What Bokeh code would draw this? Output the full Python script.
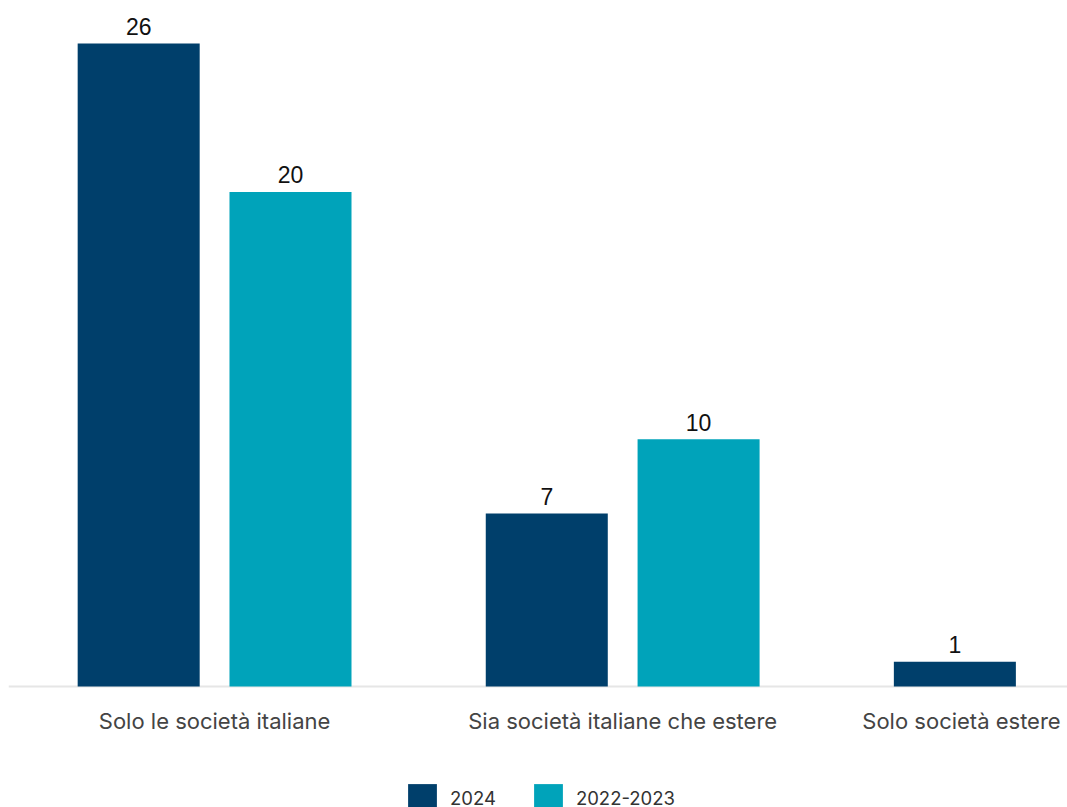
from bokeh.plotting import figure
from bokeh.models import (ColumnDataSource, Range1d, Legend, LegendItem, Span)
from bokeh.core.properties import value
from bokeh.embed import file_html
from bokeh.resources import INLINE

# ---- data ----
categories = ["Solo le società italiane", "Sia società italiane che estere", "Solo società estere"]
series_names = ["2024", "2022-2023"]
values_2024 = [26, 7, 1]
values_2022_2023 = [20, 10, None]

# ---- style ----
COLORS = ["#003F6B", "#00A3BA"]
X_START, X_END = -0.005, 2.59
Y_START, Y_END = -4.893, 27.42
DODGE = 0.186
BAR_W = 0.299
LABEL_FONT = "Inter"
FRAME_W, FRAME_H = 1059, 799
PX_PER_UNIT = FRAME_W / (X_END - X_START)

p = figure(frame_width=FRAME_W, frame_height=FRAME_H, output_backend="svg", toolbar_location=None,
           x_range=Range1d(X_START, X_END), y_range=Range1d(Y_START, Y_END),
           min_border_left=8, min_border_right=0, min_border_top=8, min_border_bottom=0)
p.outline_line_color = None
p.xgrid.visible = False
p.ygrid.visible = False
p.xaxis.visible = False
p.yaxis.visible = False
p.background_fill_color = "white"
p.border_fill_color = "white"

# baseline (x axis line)
p.add_layout(Span(location=0, dimension="width", line_color="#E6E6E6", line_width=2, level="underlay"))

centers = [i + 0.5 for i in range(len(categories))]
renderers = []
for k, (name, vals) in enumerate(zip(series_names, [values_2024, values_2022_2023])):
    off = (-DODGE if k == 0 else DODGE)
    xs = [c + off for c, v in zip(centers, vals) if v is not None]
    ys = [v for v in vals if v is not None]
    src = ColumnDataSource(dict(x=xs, top=ys, lab=[str(v) for v in ys]))
    r = p.vbar(x="x", top="top", width=BAR_W, bottom=0, source=src,
               fill_color=COLORS[k], line_color=None)
    renderers.append(r)
    p.text(x="x", y="top", text="lab", source=src, text_align="center",
           text_baseline="alphabetic", y_offset=-17, text_color="#111111",
           text_font=value("Liberation Sans"), text_font_size="23px")

# category labels: centred under each group, last one pulled inside the visible area
est_w = [len(c) * 10.0 for c in categories]
label_x = []
for c, w in zip(centers, est_w):
    limit = X_END - (w / 2 + 11) / PX_PER_UNIT
    label_x.append(min(c, limit))
cat_src = ColumnDataSource(dict(x=label_x, y=[0] * len(categories), text=categories))
p.text(x="x", y="y", text="text", source=cat_src, text_align="center",
       text_baseline="middle", y_offset=34, text_color="#444444",
       text_font=value(LABEL_FONT), text_font_size="22px")

legend = Legend(items=[LegendItem(label=n, renderers=[r]) for n, r in zip(series_names, renderers)],
                orientation="horizontal", location=(396, -9),
                label_text_font=LABEL_FONT, label_text_font_size="18.5px",
                label_text_color="#333333", glyph_width=36, glyph_height=36,
                spacing=34, border_line_color=None, background_fill_alpha=0,
                margin=0, padding=0, label_standoff=10)
p.add_layout(legend, "center")

open("out.html", "w").write(file_html(p, INLINE))
